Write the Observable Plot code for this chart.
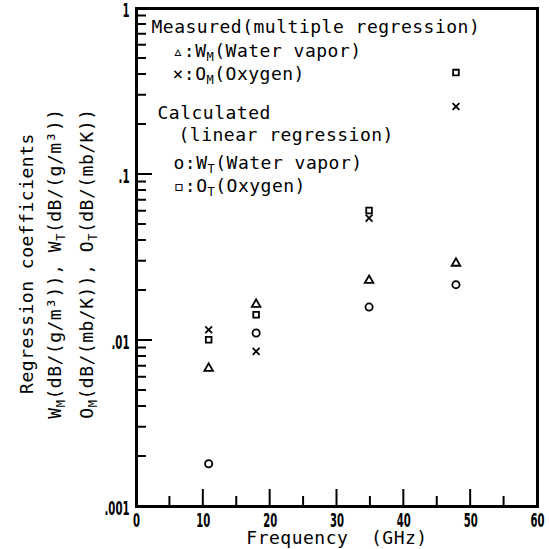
<!DOCTYPE html>
<html><head><meta charset="utf-8">
<script src="https://cdn.jsdelivr.net/npm/d3@7"></script>
<script src="https://cdn.jsdelivr.net/npm/@observablehq/plot@0.6"></script>
<style>
body{margin:0;background:#fff}
#chart svg{font-family:"DejaVu Sans Mono",monospace}
#chart svg g[aria-label="text"] text{letter-spacing:0.5px}
</style>
</head><body><div id="chart"></div>
<script>
// Frequencies (GHz)
const freqs = [10.8, 17.9, 34.8, 47.8];
// Measured (multiple regression)
const wM = [0.0068, 0.0165, 0.023, 0.0292];   // triangle  W_M water vapor
const oM = [0.0116, 0.0086, 0.0546, 0.257];   // times     O_M oxygen
// Calculated (linear regression)
const wT = [0.00181, 0.0111, 0.0159, 0.0217]; // circle    W_T water vapor
const oT = [0.0101, 0.0143, 0.0607, 0.411];   // square    O_T oxygen

const xTicks = [0, 10, 20, 30, 40, 50, 60];
const xMinorTicks = [5, 15, 25, 35, 45, 55];
const yTicks = [0.001, 0.01, 0.1, 1];
const yTickLabels = [".001", ".01", ".1", "1"];
const yMinorTicks = [
  0.002,0.003,0.004,0.005,0.006,0.007,0.008,0.009,
  0.02,0.03,0.04,0.05,0.06,0.07,0.08,0.09,
  0.2,0.3,0.4,0.5,0.6,0.7,0.8,0.9
];
const xLabel = "Frequency  (GHz)";
const yLabelLines = ["Regression coefficients", "W_M(dB/(g/m³)), W_T(dB/(g/m³))", "O_M(dB/(mb/K)), O_T(dB/(mb/K))"];
const legendLines = ["Measured(multiple regression)", "▵:W_M(Water vapor)", "×:O_M(Oxygen)", "Calculated", "(linear regression)", "o:W_T(Water vapor)", "▫:O_T(Oxygen)"];

// layout / style (not data)
const W = 549, H = 549, mL = 136, mR = 12, mT = 8, mB = 43;
const legendDx = [15, 36, 36, 21, 42, 37, 37];
const legendDy = [19, 43, 66, 105, 127, 155, 178];
const yLabelDx = [-109, -81, -49];
const textStyle = {fontSize: 18, fill: "black"};
const tickFont = {fontSize: 20, fontWeight: "bold", fontFamily: "DejaVu Sans"};
const tickLen = {xMajor: 17, xMinor: 10, yMajor: 16, yMinor: 10};

const series = [
  {y: wM, symbol: "triangle", r: 3.2},
  {y: oM, symbol: "times", r: 3.2},
  {y: wT, symbol: "circle", r: 3.6},
  {y: oT, symbol: "square", r: 3.2}
];

const chart = Plot.plot({
  width: W,
  height: H,
  marginLeft: mL,
  marginRight: mR,
  marginTop: mT,
  marginBottom: mB,
  x: {domain: [0, 60]},
  y: {type: "log", domain: [0.001, 1]},
  marks: [
    Plot.axisX({ticks: xTicks, tickSize: 0, tickPadding: 6, tickFormat: d => String(d), label: null, ...tickFont}),
    Plot.axisY({ticks: yTicks, tickSize: 0, tickPadding: 7, dy: 2, tickFormat: d => yTickLabels[yTicks.indexOf(d)], label: null, ...tickFont}),
    ...series.map(s => Plot.dot(freqs, {x: freqs, y: s.y, symbol: s.symbol, r: s.r, stroke: "black", strokeWidth: 1.8, fill: "none"})),
    ...legendLines.map((t, i) => Plot.text([t], {text: d => d, frameAnchor: "top-left", textAnchor: "start", lineAnchor: "middle", dx: legendDx[i], dy: legendDy[i], ...textStyle})),
    ...yLabelLines.map((t, i) => Plot.text([t], {text: d => d, frameAnchor: "left", textAnchor: "middle", lineAnchor: "middle", rotate: -90, dx: yLabelDx[i], dy: 6, ...textStyle})),
    Plot.text([xLabel], {text: d => d, frameAnchor: "bottom", textAnchor: "middle", lineAnchor: "middle", dy: 32, ...textStyle}),
    Plot.frame({stroke: "black", strokeWidth: 3})
  ]
});

// inward ticks, positioned through Plot's own scales
const sx = chart.scale("x"), sy = chart.scale("y");
const x0 = sx.apply(sx.domain[0]);
const yBottom = sy.apply(sy.domain[0]);
const tickPath = d3.path();
xTicks.forEach(v => { const px = sx.apply(v); tickPath.moveTo(px, yBottom); tickPath.lineTo(px, yBottom - tickLen.xMajor); });
xMinorTicks.forEach(v => { const px = sx.apply(v); tickPath.moveTo(px, yBottom); tickPath.lineTo(px, yBottom - tickLen.xMinor); });
yTicks.forEach(v => { const py = sy.apply(v); tickPath.moveTo(x0, py); tickPath.lineTo(x0 + tickLen.yMajor, py); });
yMinorTicks.forEach(v => { const py = sy.apply(v); tickPath.moveTo(x0, py); tickPath.lineTo(x0 + tickLen.yMinor, py); });
d3.select(chart).append("path")
  .attr("d", tickPath.toString())
  .attr("fill", "none")
  .attr("stroke", "black")
  .attr("stroke-width", 2);

// subscripts: "_X" -> smaller lowered letter
const ns = "http://www.w3.org/2000/svg";
chart.querySelectorAll("text").forEach(el => {
  const s = el.textContent;
  if (!s.includes("_")) return;
  el.textContent = "";
  const parts = s.split(/_(.)/);
  parts.forEach((p, i) => {
    if (!p) return;
    const ts = document.createElementNS(ns, "tspan");
    ts.textContent = p;
    if (i % 2 === 1) {
      ts.setAttribute("dy", "4");
      ts.setAttribute("font-size", "12");
    } else if (i > 0) {
      ts.setAttribute("dy", "-4");
    }
    el.appendChild(ts);
  });
});

// condensed tick labels
chart.querySelectorAll('g[aria-label="x-axis tick label"] text, g[aria-label="y-axis tick label"] text').forEach(el => {
  const s = el.textContent;
  if (!s) return;
  let len = 0;
  for (const c of s) len += c === "." ? 4 : 7;
  el.setAttribute("textLength", len);
  el.setAttribute("lengthAdjust", "spacingAndGlyphs");
});

document.getElementById("chart").append(chart);
</script>
</body></html>
